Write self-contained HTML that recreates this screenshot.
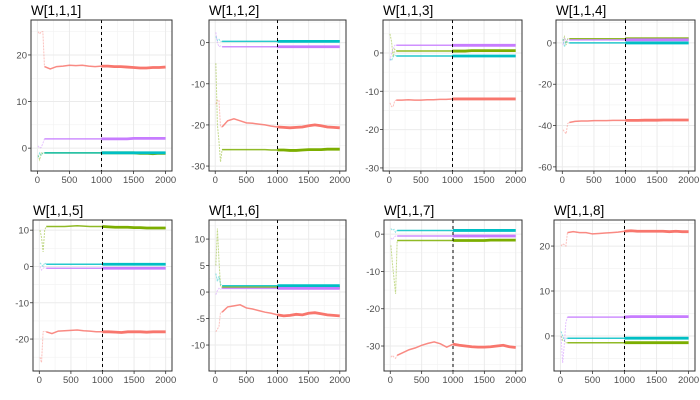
<!DOCTYPE html>
<html><head><meta charset="utf-8">
<style>
body{margin:0;background:#fff;}
svg{display:block;font-family:"Liberation Sans",sans-serif;}
</style></head>
<body>
<svg id="chart" width="700" height="400" viewBox="0 0 700 400"></svg>
<script>
const xKnots = [10,35,60,85,110,200,300,400,500,600,700,800,900,1000,1100,1200,1300,1400,1500,1600,1700,1800,1900,2000];
const xTicks = [0,500,1000,1500,2000];
const panelTitles = ["W[1,1,1]","W[1,1,2]","W[1,1,3]","W[1,1,4]","W[1,1,5]","W[1,1,6]","W[1,1,7]","W[1,1,8]"];
const yTicks1 = [0,10,20];
const yTicks2 = [-30,-20,-10,0];
const yTicks3 = [-30,-20,-10,0];
const yTicks4 = [-60,-40,-20,0];
const yTicks5 = [-20,-10,0,10];
const yTicks6 = [-10,-5,0,5,10];
const yTicks7 = [-30,-20,-10,0];
const yTicks8 = [0,10,20];
const yRange1 = [-4.9,27.5];
const yRange2 = [-31.2,5.5];
const yRange3 = [-30.8,8.6];
const yRange4 = [-62,11.1];
const yRange5 = [-28.8,12.8];
const yRange6 = [-14.9,13.6];
const yRange7 = [-36.7,3.8];
const yRange8 = [-7.8,25.8];

const p1Red = [25,24.5,25,25,17.5,17,17.5,17.6,17.8,17.7,17.8,17.6,17.5,17.6,17.6,17.5,17.5,17.4,17.3,17.2,17.2,17.3,17.3,17.4];
const p1Green = [-1.5,-2.5,-1,-1.2,-1,-1,-1,-1,-1,-1,-1,-1,-1,-1,-1,-1,-1,-1,-1,-1.1,-1.1,-1.2,-1.1,-1.1];
const p1Cyan = [-2,-1,-1.5,-1,-1,-1,-1,-1,-1,-1,-1,-1,-1,-1,-1,-1,-1,-1,-1,-1,-1,-1,-1,-1];
const p1Purple = [0.5,0,0.2,1,2,2,2,2,2,2,2,2,2,2,2,2,2,2,2.1,2.1,2.1,2.1,2.1,2.1];

const p2Red = [-15,-14,-14,-20.5,-20.5,-19,-18.5,-19,-19.5,-19.6,-19.8,-20,-20.3,-20.5,-20.6,-20.7,-20.6,-20.5,-20.2,-20,-20.2,-20.5,-20.6,-20.7];
const p2Green = [-5,-20,-24,-29,-26,-26,-26,-26,-26,-26,-26,-26,-26.1,-26.1,-26.1,-26.2,-26.2,-26.1,-26,-26,-26,-25.9,-25.9,-25.9];
const p2Cyan = [1.5,0.5,0.8,0.3,0.3,0.3,0.3,0.3,0.3,0.3,0.3,0.3,0.3,0.3,0.3,0.3,0.3,0.3,0.3,0.3,0.3,0.3,0.3,0.3];
const p2Purple = [2.5,0,-1,-0.8,-1,-1,-1,-1,-1,-1,-1,-1,-1,-1,-1,-1,-1,-1,-1,-1,-1,-1,-1,-1];

const p3Red = [-13,-14,-14,-12.5,-12.3,-12.3,-12.2,-12.3,-12.3,-12.2,-12.2,-12.1,-12.1,-12,-12,-12,-12,-12,-12,-12,-12,-12,-12,-12];
const p3Green = [5,3,-1,1,0.5,0.5,0.5,0.5,0.5,0.5,0.5,0.5,0.5,0.5,0.5,0.5,0.6,0.6,0.6,0.6,0.6,0.6,0.6,0.6];
const p3Cyan = [-1.5,-2,-1,-0.5,-0.8,-0.8,-0.8,-0.8,-0.8,-0.8,-0.8,-0.8,-0.8,-0.8,-0.8,-0.8,-0.8,-0.8,-0.8,-0.8,-0.8,-0.8,-0.8,-0.8];
const p3Purple = [-2,0,1,2,2,2,2,2,2,2,2,2,2,2,2,2,2,2,2,2,2,2,2,2];

const p4Red = [-42,-43,-44,-39,-38.5,-38,-37.8,-37.8,-37.6,-37.6,-37.6,-37.5,-37.5,-37.5,-37.5,-37.5,-37.4,-37.4,-37.4,-37.3,-37.3,-37.3,-37.3,-37.3];
const p4Green = [1,3,-1,2,2,2,2,2,2,2,2,2,2,2,2,2,2,2,2,2,2,2,2,2];
const p4Cyan = [2,-2,1,0,0,0,0,0,0,0,0,0,0,0,0,0,0,0,0,0,0,0,0,0];
const p4Purple = [-1,2,1,1.5,1.5,1.5,1.5,1.5,1.5,1.5,1.5,1.5,1.5,1.5,1.5,1.5,1.5,1.5,1.5,1.5,1.5,1.5,1.5,1.5];

const p5Red = [-25,-26.5,-18,-17.8,-18,-18.5,-17.8,-17.7,-17.6,-17.5,-17.7,-17.8,-18,-18,-18,-18.1,-18.2,-18,-18,-18,-18.1,-18,-18,-18];
const p5Green = [10,8,4,10,11,11,11,11,11.1,11.2,11.1,11,11,11,10.9,10.8,10.8,10.8,10.7,10.7,10.6,10.6,10.6,10.6];
const p5Cyan = [1,0.5,0,1,0.6,0.6,0.6,0.6,0.6,0.6,0.6,0.6,0.6,0.6,0.6,0.6,0.6,0.6,0.6,0.6,0.6,0.6,0.6,0.6];
const p5Purple = [0,-1,-0.5,-0.3,-0.5,-0.5,-0.5,-0.5,-0.5,-0.5,-0.5,-0.5,-0.5,-0.5,-0.5,-0.5,-0.5,-0.5,-0.5,-0.5,-0.5,-0.5,-0.5,-0.5];

const p6Red = [-7.5,-7,-6.5,-3.8,-3.8,-2.8,-2.6,-2.4,-3,-3.2,-3.5,-3.8,-4,-4.3,-4.5,-4.4,-4.2,-4.3,-4,-3.9,-4.1,-4.3,-4.4,-4.5];
const p6Green = [5,12,6,1,0.9,0.9,0.9,0.9,0.9,0.9,0.9,0.9,0.9,0.9,0.9,0.9,0.9,0.9,0.9,0.9,0.9,0.9,0.9,0.9];
const p6Cyan = [3.5,2,3,1.5,1.2,1.2,1.2,1.2,1.2,1.2,1.2,1.2,1.2,1.2,1.2,1.2,1.2,1.2,1.2,1.2,1.2,1.2,1.2,1.2];
const p6Purple = [-0.5,0.3,0.7,0.5,0.7,0.7,0.7,0.7,0.7,0.7,0.7,0.7,0.7,0.7,0.7,0.7,0.7,0.7,0.7,0.7,0.7,0.7,0.7,0.7];

const p7Red = [-33,-32.5,-33,-33.3,-32.5,-31.8,-31,-30.5,-29.8,-29.3,-28.9,-29.4,-30.3,-29.5,-29.8,-30,-30.2,-30.3,-30.3,-30.2,-30,-29.8,-30.2,-30.4];
const p7Green = [-3,-8,-12,-16,-1.7,-1.7,-1.7,-1.7,-1.7,-1.7,-1.7,-1.7,-1.7,-1.7,-1.7,-1.7,-1.7,-1.7,-1.7,-1.6,-1.6,-1.6,-1.6,-1.6];
const p7Cyan = [1.5,1,1.3,0.5,1,1,1,1,1,1,1,1,1,1,1,1,1,1,1,1,1,1,1,1];
const p7Purple = [-1,-1.5,-0.8,-0.5,-0.5,-0.5,-0.5,-0.5,-0.5,-0.5,-0.5,-0.5,-0.5,-0.5,-0.5,-0.5,-0.5,-0.5,-0.5,-0.5,-0.5,-0.5,-0.5,-0.5];

const p8Red = [20,20.5,20.3,20,23,23.2,23,23,22.7,22.8,22.9,23,23.1,23.3,23.4,23.3,23.3,23.3,23.3,23.3,23.2,23.3,23.2,23.2];
const p8Green = [0,-1,-1,-1.5,-1.5,-1.5,-1.5,-1.5,-1.5,-1.5,-1.5,-1.5,-1.5,-1.5,-1.5,-1.5,-1.5,-1.5,-1.5,-1.5,-1.5,-1.5,-1.5,-1.5];
const p8Cyan = [1,0,-1,-0.5,-0.5,-0.5,-0.5,-0.5,-0.5,-0.5,-0.5,-0.5,-0.5,-0.5,-0.5,-0.5,-0.5,-0.5,-0.5,-0.5,-0.5,-0.5,-0.5,-0.5];
const p8Purple = [0,-6,-2,3,4.2,4.2,4.2,4.2,4.2,4.2,4.2,4.2,4.2,4.2,4.3,4.3,4.3,4.3,4.3,4.3,4.3,4.3,4.3,4.3];

const seriesNames = ["red","green","cyan","purple"];
const seriesColors = ["#F8766D","#7CAE00","#00BFC4","#C77CFF"];
const panelSeries = [
  [p1Red,p1Green,p1Cyan,p1Purple],[p2Red,p2Green,p2Cyan,p2Purple],
  [p3Red,p3Green,p3Cyan,p3Purple],[p4Red,p4Green,p4Cyan,p4Purple],
  [p5Red,p5Green,p5Cyan,p5Purple],[p6Red,p6Green,p6Cyan,p6Purple],
  [p7Red,p7Green,p7Cyan,p7Purple],[p8Red,p8Green,p8Cyan,p8Purple]];
const panelTicks = [yTicks1,yTicks2,yTicks3,yTicks4,yTicks5,yTicks6,yTicks7,yTicks8];
const panelRanges = [yRange1,yRange2,yRange3,yRange4,yRange5,yRange6,yRange7,yRange8];
const boxes = [[31,172,20,171],[209,346,20,171],[383,522,20,171],[556,695,20,171],
               [33,172,220,371],[209,346,220,371],[384,522,220,371],[554,695,220,371]];

const NS="http://www.w3.org/2000/svg";
const svg=document.getElementById('chart');
function mk(tag,attrs,parent){const e=document.createElementNS(NS,tag);for(const k in attrs)e.setAttribute(k,attrs[k]);(parent||svg).appendChild(e);return e;}

panelTitles.forEach((title,i)=>{
  const [L,R,T,B]=boxes[i];
  const [ymin,ymax]=panelRanges[i];
  const xs=v=>L+(v+100)/2200*(R-L);
  const ys=v=>B-(v-ymin)/(ymax-ymin)*(B-T);
  const g=mk('g',{});
  
  
  const t=mk('text',{x:L,y:T-5,'font-size':13.5,fill:'#000'},g);
  t.textContent=title;
  
  
  const ticks=panelTicks[i];
  const step=ticks[1]-ticks[0];
  for(let v=ticks[0]-step/2;v<=ymax+step;v+=step){ if(v>ymin&&v<ymax){const y=ys(v);const l=mk('line',{x1:L,x2:R,y1:y,y2:y,stroke:'#f2f2f2','stroke-width':0.6},g);}}
  for(let v=250;v<2000;v+=500){const x=xs(v);const l=mk('line',{x1:x,x2:x,y1:T,y2:B,stroke:'#f2f2f2','stroke-width':0.6},g);}
  ticks.forEach(v=>{const y=ys(v);
    const l=mk('line',{x1:L,x2:R,y1:y,y2:y,stroke:'#ebebeb','stroke-width':1},g);
    
    
    mk('line',{x1:L-3,x2:L,y1:y,y2:y,stroke:'#333','stroke-width':0.8},g);
    const tx=mk('text',{x:L-4,y:y+3.5,'font-size':9.5,fill:'#4d4d4d','text-anchor':'end'},g);
    tx.textContent=v;
    
    
  });
  xTicks.forEach(v=>{const x=xs(v);
    const l=mk('line',{x1:x,x2:x,y1:T,y2:B,stroke:'#ebebeb','stroke-width':1},g);
    
    
    mk('line',{x1:x,x2:x,y1:B,y2:B+3,stroke:'#333','stroke-width':0.8},g);
    const tx=mk('text',{x:x,y:B+12,'font-size':9.5,fill:'#4d4d4d','text-anchor':'middle'},g);
    tx.textContent=v;
    
    
  });
  panelSeries[i].forEach((vals,s)=>{
    const pts=xKnots.map((x,k)=>[xs(x),ys(vals[k])]);
    const early=pts.slice(0,5).map(p=>p.join(',')).join(' ');
    const mid=pts.slice(4,14).map(p=>p.join(',')).join(' ');
    const late=pts.slice(13).map(p=>p.join(',')).join(' ');
    const e1=mk('polyline',{points:early,fill:'none',stroke:seriesColors[s],'stroke-width':1,opacity:0.45,'stroke-dasharray':'2,1'},g);
    
    
    const e2=mk('polyline',{points:mid,fill:'none',stroke:seriesColors[s],'stroke-width':1.5,opacity:0.85},g);
    
    
    const e3=mk('polyline',{points:late,fill:'none',stroke:seriesColors[s],'stroke-width':2.8},g);
    
    
  });
  const d=mk('line',{x1:xs(1000),x2:xs(1000),y1:T,y2:B,stroke:'#000','stroke-width':1,'stroke-dasharray':'3,3'},g);
  
  
  const bx=mk('rect',{x:L,y:T,width:R-L,height:B-T,fill:'none',stroke:'#333','stroke-width':1},g);
  
  
});
</script>
</body></html>
